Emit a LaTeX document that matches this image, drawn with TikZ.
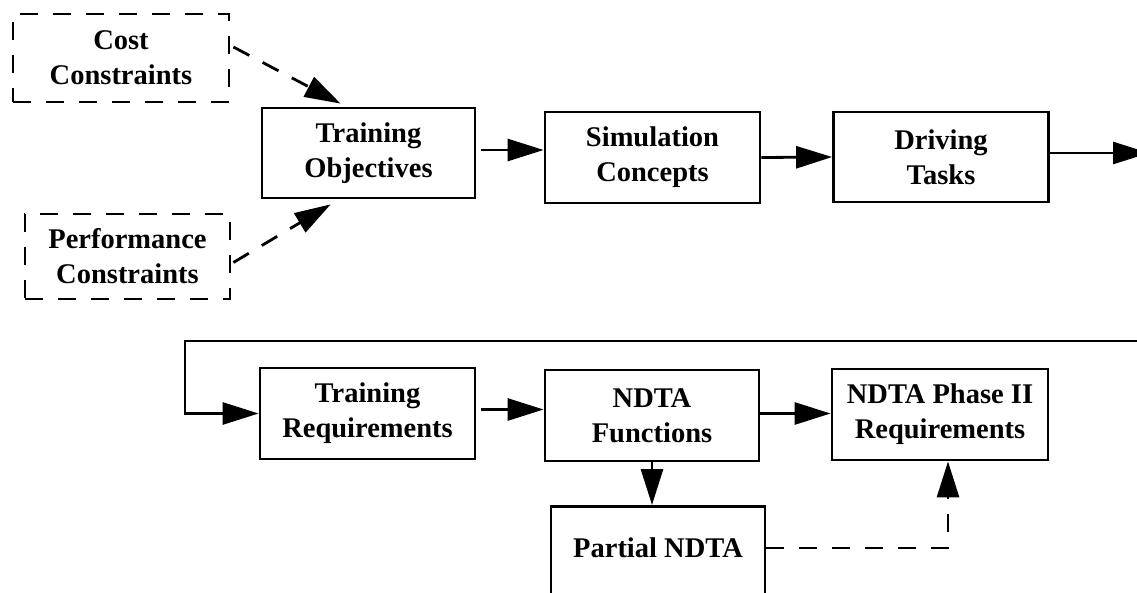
\documentclass[tikz,border=0pt]{standalone}
\usepackage{fontspec}
\setmainfont{Liberation Serif}
\usetikzlibrary{arrows.meta,calc}
\begin{document}
\begin{tikzpicture}[x=1pt,y=-1pt,
  box/.style={draw,line width=2.8pt,inner sep=0pt,align=center,
    font=\fontsize{28.5}{35}\selectfont\bfseries,text=black},
  dbox/.style={box,dash pattern=on 18pt off 15pt},
  arr/.style={line width=2.8pt,-{Triangle[length=36pt,width=22pt]}},
  darr/.style={arr,dash pattern=on 18pt off 15pt}]
\useasboundingbox (0,0) rectangle (1137,592);
\begin{scope}
\clip (0,0) rectangle (1137,592);
\node[dbox,minimum width=216pt,minimum height=88pt] (cost) at (121,58) {Cost\\Constraints};
\node[dbox,minimum width=205pt,minimum height=85pt] (perf) at (127.5,256.5) {Performance\\Constraints};
\node[box,minimum width=213pt,minimum height=90pt] (to) at (368.5,153) {Training\\Objectives};
\node[box,minimum width=215pt,minimum height=91pt] (sc) at (652.5,157.5) {Simulation\\Concepts};
\node[box,minimum width=215pt,minimum height=90pt] (dt) at (941,157) {Driving\\Tasks};
\node[box,minimum width=215pt,minimum height=91pt] (tr) at (367.5,413.5) {Training\\Requirements};
\node[box,minimum width=214pt,minimum height=91pt] (nf) at (652,415.5) {NDTA\\Functions};
\node[box,minimum width=216pt,minimum height=91pt] (npr) at (940,414.5) {NDTA Phase II\\Requirements};
\node[box,minimum width=214pt,minimum height=100pt,anchor=north] (pn) at (658,505) {};
\node[font=\fontsize{28.5}{35}\selectfont\bfseries] (pnt) at (658,548) {Partial NDTA};
\coordinate (dtout) at (1149,153);
\coordinate (wrapR) at (1140,341);
\coordinate (wrapL) at (185,341);
\coordinate (wrapD) at (185,413.5);
\coordinate (nprin) at ($(npr.south)+(8,0)$);
\coordinate (pnbend) at (nprin |- pnt);
\draw[darr] ($(cost.east)+(3,-11)$) -- ($(to.north west)+(80,-3)$);
\draw[darr] ($(perf.east)+(2,6)$) -- ($(to.south west)+(70,5)$);
\draw[arr] ($(to.east)+(5,-3)$) -- ($(sc.west)+(0,-7.5)$);
\draw[arr] (sc.east) -- (dt.west);
\draw[arr] ($(dt.east)+(0,-4)$) -- (dtout);
\draw[arr] (wrapR) -- (wrapL) -- (wrapD) -- (tr.west);
\draw[arr] ($(tr.east)+(5,-4)$) -- ($(nf.west)+(0,-6)$);
\draw[arr] ($(nf.east)+(0,-2)$) -- ($(npr.west)+(0,-1)$);
\draw[arr] (nf.south) -- (nf.south |- pn.north);
\draw[darr] (pn.east |- pnt) -- (pnbend) -- (nprin);
\end{scope}
\end{tikzpicture}
\end{document}
